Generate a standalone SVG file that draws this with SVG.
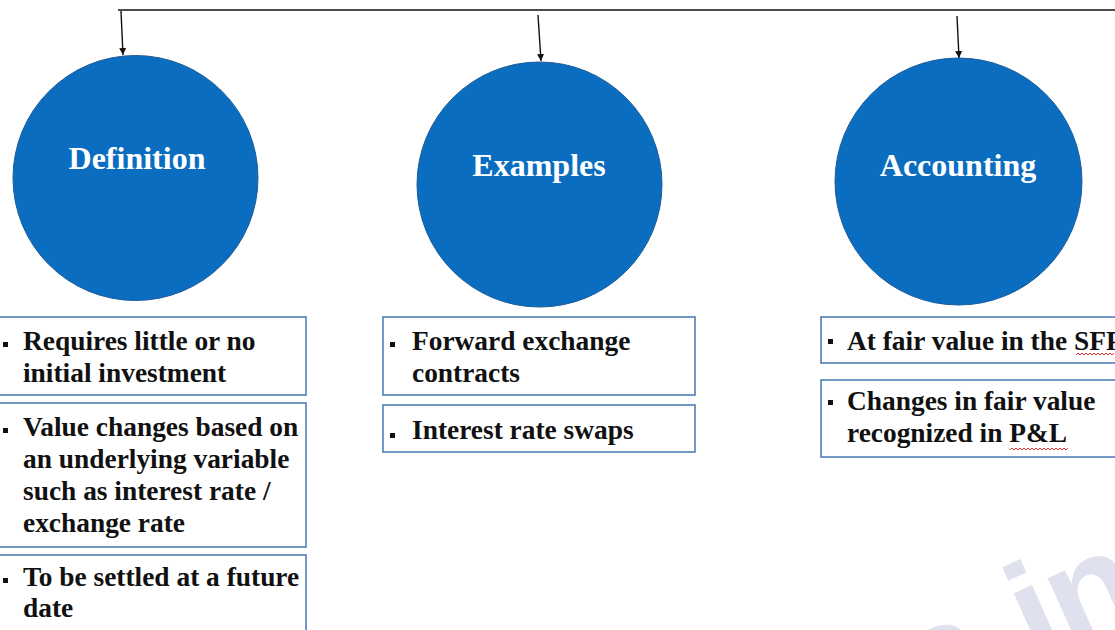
<svg xmlns="http://www.w3.org/2000/svg" width="1115" height="630" viewBox="0 0 1115 630">
<defs>
<marker id="ah" viewBox="0 0 10 10" refX="10" refY="5" markerWidth="7" markerHeight="7" markerUnits="userSpaceOnUse" orient="auto">
<path d="M0,0 L10,5 L0,10 Z" fill="#111"/>
</marker>
<style>
.circ{fill:#0a6dbf;stroke:#1d5c99;stroke-width:1}
.title{font-weight:bold;font-size:32px;fill:#fff;text-anchor:middle}
.box{fill:#fff;stroke:#4f7fb8;stroke-width:1.6}
.txt{font-weight:bold;font-size:27.4px;fill:#111}
.bul{fill:#111}
.conn{stroke:#111;stroke-width:1.4;fill:none}
.wavy{stroke:#e0302a;stroke-width:1;fill:none}
.wm{font-weight:bold;font-size:145px;fill:#e0e1ee}
</style>
</defs>
<rect width="1115" height="630" fill="#fff"/>

<g id="watermark" transform="translate(962,700) rotate(-24)" font-family="'Liberation Sans', Arial, sans-serif">
<text class="wm" x="-40 80.6 118" y="0">ain</text>
</g>

<g id="connectors">
<path class="conn" d="M118,10 L1115,10" stroke-width="2"/>
<path class="conn" d="M121,11 L123,55" marker-end="url(#ah)"/>
<path class="conn" d="M538,15 L541,61" marker-end="url(#ah)"/>
<path class="conn" d="M957,16 L959,58" marker-end="url(#ah)"/>
</g>

<g font-family="'Liberation Serif', 'Times New Roman', serif">
<g id="definition">
<circle class="circ" cx="135.5" cy="178" r="122.5"/>
<text class="title" x="137" y="169">Definition</text>
</g>
<g id="examples">
<circle class="circ" cx="539.5" cy="184.5" r="122.5"/>
<text class="title" x="539" y="176">Examples</text>
</g>
<g id="accounting">
<circle class="circ" cx="958.5" cy="181.5" r="123.5"/>
<text class="title" x="958" y="176">Accounting</text>
</g>

<g id="def-box1">
<rect class="box" x="-1" y="317" width="307" height="78"/>
<rect class="bul" x="3" y="342" width="5" height="5"/>
<text class="txt" x="23" y="350">Requires little or no</text>
<text class="txt" x="23" y="382">initial investment</text>
</g>
<g id="def-box2">
<rect class="box" x="-1" y="403" width="307" height="144"/>
<rect class="bul" x="3" y="428" width="5" height="5"/>
<text class="txt" x="23" y="436">Value changes based on</text>
<text class="txt" x="23" y="468">an underlying variable</text>
<text class="txt" x="23" y="500">such as interest rate /</text>
<text class="txt" x="23" y="532">exchange rate</text>
</g>
<g id="def-box3">
<rect class="box" x="-1" y="555" width="307" height="90"/>
<rect class="bul" x="3" y="578" width="5" height="5"/>
<text class="txt" x="23" y="586">To be settled at a future</text>
<text class="txt" x="23" y="617">date</text>
</g>

<g id="ex-box1">
<rect class="box" x="383" y="317" width="312" height="78"/>
<rect class="bul" x="390" y="342" width="5" height="5"/>
<text class="txt" x="412" y="350">Forward exchange</text>
<text class="txt" x="412" y="382">contracts</text>
</g>
<g id="ex-box2">
<rect class="box" x="383" y="405" width="312" height="47"/>
<rect class="bul" x="390" y="433" width="5" height="5"/>
<text class="txt" x="412" y="439">Interest rate swaps</text>
</g>

<g id="acc-box1">
<rect class="box" x="821" y="317" width="310" height="46"/>
<rect class="bul" x="828" y="339" width="5" height="5"/>
<text class="txt" x="847" y="350">At fair value in the SFP</text>
<path class="wavy" d="M1076,355 l2,-2 l2,2 l2,-2 l2,2 l2,-2 l2,2 l2,-2 l2,2 l2,-2 l2,2 l2,-2 l2,2 l2,-2 l2,2 l2,-2 l2,2 l2,-2 l2,2 l2,-2"/>
</g>
<g id="acc-box2">
<rect class="box" x="821" y="380" width="310" height="77"/>
<rect class="bul" x="828" y="400" width="5" height="5"/>
<text class="txt" x="847" y="410">Changes in fair value</text>
<text class="txt" x="847" y="442">recognized in P&amp;L</text>
<path class="wavy" d="M1010,450 l2,-2 l2,2 l2,-2 l2,2 l2,-2 l2,2 l2,-2 l2,2 l2,-2 l2,2 l2,-2 l2,2 l2,-2 l2,2 l2,-2 l2,2 l2,-2 l2,2 l2,-2 l2,2 l2,-2 l2,2 l2,-2 l2,2 l2,-2 l2,2 l2,-2 l2,2 l2,-2"/>
</g>
</g>
</svg>
